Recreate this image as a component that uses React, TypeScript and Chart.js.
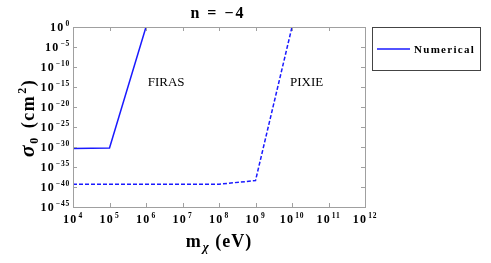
import React, { useEffect, useRef } from 'react';
import { Chart, registerables } from 'chart.js';
Chart.register(...registerables);

const xExponents = [4, 5, 6, 7, 8, 9, 10, 11, 12];
const yExponents = [0, -5, -10, -15, -20, -25, -30, -35, -40, -45];
const firasMass = [1e4, 1e5, 1e6];
const firasSigma = [4e-31, 6e-31, 1];
const pixieMass = [1e4, 1e8, 1e9, 1e10];
const pixieSigma = [5e-40, 5e-40, 4e-39, 1];
const seriesLabel = 'Numerical';
const titleText = 'n = \u22124';
const annotationTexts = ['FIRAS', 'PIXIE'];
const annotationMass = [10 ** 6.55, 10 ** 10.4];
const annotationSigma = [10 ** -13.8, 10 ** -13.8];

const BLUE = '#1a1aff';
const SERIF = '"Liberation Serif", "Times New Roman", serif';

function setLS(ctx: CanvasRenderingContext2D, v: string) {
  (ctx as any).letterSpacing = v;
}

function drawPower(ctx: CanvasRenderingContext2D, exp: number, x: number, y: number, align: 'center' | 'right') {
  const base = '10';
  const ex = exp < 0 ? '\u2212' + Math.abs(exp) : String(exp);
  setLS(ctx, '1.2px');
  ctx.font = `bold 12px ${SERIF}`;
  const wb = ctx.measureText(base).width;
  setLS(ctx, '0.8px');
  ctx.font = `bold 7.5px ${SERIF}`;
  const we = ctx.measureText(ex).width;
  const total = wb + 1 + we;
  const left = align === 'center' ? x - total / 2 : x - total;
  ctx.textAlign = 'left';
  ctx.textBaseline = 'alphabetic';
  ctx.fillStyle = '#000';
  setLS(ctx, '1.2px');
  ctx.font = `bold 12px ${SERIF}`;
  ctx.fillText(base, left, y);
  setLS(ctx, '0.8px');
  ctx.font = `bold 7.5px ${SERIF}`;
  ctx.fillText(ex, left + wb + 1, y - 5.5);
  setLS(ctx, '0px');
}

const decorPlugin = {
  id: 'decor',
  afterDraw(chart: any) {
    const ctx: CanvasRenderingContext2D = chart.ctx;
    const { left, right, top, bottom } = chart.chartArea;
    const xs = chart.scales.x;
    const ys = chart.scales.y;
    ctx.save();
    // frame
    ctx.strokeStyle = '#a0a0a0';
    ctx.lineWidth = 1;
    ctx.strokeRect(left + 0.5, top + 0.5, right - left, bottom - top);
    // ticks
    ctx.beginPath();
    xExponents.forEach((e) => {
      const px = Math.round(xs.getPixelForValue(10 ** e)) + 0.5;
      ctx.moveTo(px, bottom); ctx.lineTo(px, bottom - 4);
      ctx.moveTo(px, top); ctx.lineTo(px, top + 4);
    });
    yExponents.forEach((e) => {
      const py = Math.round(ys.getPixelForValue(10 ** e)) + 0.5;
      ctx.moveTo(left, py); ctx.lineTo(left + 4, py);
      ctx.moveTo(right, py); ctx.lineTo(right - 4, py);
    });
    ctx.stroke();
    // tick labels
    xExponents.forEach((e) => {
      const px = xs.getPixelForValue(10 ** e);
      drawPower(ctx, e, px, bottom + 16, 'center');
    });
    yExponents.forEach((e) => {
      const py = ys.getPixelForValue(10 ** e);
      drawPower(ctx, e, left - 3, py + 4, 'right');
    });
    // annotations
    ctx.fillStyle = '#000';
    ctx.font = `13px ${SERIF}`;
    ctx.textAlign = 'center';
    ctx.textBaseline = 'middle';
    annotationTexts.forEach((t, i) => {
      ctx.fillText(t, xs.getPixelForValue(annotationMass[i]), ys.getPixelForValue(annotationSigma[i]));
    });
    // title
    ctx.font = `bold 16px ${SERIF}`;
    ctx.textBaseline = 'alphabetic';
    ctx.textAlign = 'left';
    setLS(ctx, '2px');
    {
      const w = ctx.measureText(titleText).width;
      ctx.fillText(titleText, 218 - w / 2, 18);
    }
    setLS(ctx, '0px');
    // x title
    {
      const cx = (left + right) / 2;
      const by = bottom + 40;
      setLS(ctx, '1px');
      ctx.font = `bold 18px ${SERIF}`;
      const w1 = ctx.measureText('m').width;
      const w3 = ctx.measureText(' (eV)').width;
      ctx.font = `italic bold 13px ${SERIF}`;
      const w2 = ctx.measureText('\u03c7').width + 1;
      const x0 = cx - (w1 + w2 + w3) / 2;
      ctx.textAlign = 'left';
      ctx.font = `bold 18px ${SERIF}`;
      ctx.fillText('m', x0, by);
      ctx.font = `italic bold 13px ${SERIF}`;
      ctx.fillText('\u03c7', x0 + w1 + 1, by + 4);
      ctx.font = `bold 18px ${SERIF}`;
      ctx.fillText(' (eV)', x0 + w1 + w2, by);
      setLS(ctx, '0px');
    }
    // y title
    {
      ctx.save();
      ctx.translate(34, 118);
      ctx.rotate(-Math.PI / 2);
      setLS(ctx, '1.5px');
      ctx.font = `italic bold 22px ${SERIF}`;
      const ws = ctx.measureText('\u03c3').width;
      ctx.font = `bold 12px ${SERIF}`;
      const w0 = ctx.measureText('0').width + 2;
      ctx.font = `bold 18px ${SERIF}`;
      const wc = ctx.measureText(' (cm').width;
      ctx.font = `bold 12px ${SERIF}`;
      const w2 = ctx.measureText('2').width + 1;
      ctx.font = `bold 18px ${SERIF}`;
      const wp = ctx.measureText(')').width;
      const total = ws + w0 + wc + w2 + wp;
      let x0 = -total / 2;
      ctx.textAlign = 'left';
      ctx.textBaseline = 'alphabetic';
      ctx.font = `italic bold 22px ${SERIF}`;
      ctx.fillText('\u03c3', x0, 0);
      x0 += ws;
      ctx.font = `bold 12px ${SERIF}`;
      ctx.fillText('0', x0, 4);
      x0 += w0;
      ctx.font = `bold 18px ${SERIF}`;
      ctx.fillText(' (cm', x0, 0);
      x0 += wc;
      ctx.font = `bold 12px ${SERIF}`;
      ctx.fillText('2', x0 + 1, -8);
      x0 += w2;
      ctx.font = `bold 18px ${SERIF}`;
      ctx.fillText(')', x0, 0);
      setLS(ctx, '0px');
      ctx.restore();
    }
    // legend
    {
      const lx = right + 7;
      const ly = top;
      const lw = 108;
      const lh = 43;
      ctx.strokeStyle = '#444';
      ctx.lineWidth = 1;
      ctx.strokeRect(lx + 0.5, ly + 0.5, lw, lh);
      ctx.strokeStyle = BLUE;
      ctx.lineWidth = 1.5;
      ctx.beginPath();
      ctx.moveTo(lx + 5, ly + 22);
      ctx.lineTo(lx + 38, ly + 22);
      ctx.stroke();
      ctx.fillStyle = '#000';
      ctx.font = `bold 11px ${SERIF}`;
      ctx.textAlign = 'left';
      ctx.textBaseline = 'middle';
      setLS(ctx, '1.3px');
      ctx.fillText(seriesLabel, lx + 42, ly + 23);
      setLS(ctx, '0px');
    }
    ctx.restore();
  },
};

export default function App() {
  const ref = useRef<HTMLCanvasElement>(null);
  useEffect(() => {
    if (!ref.current) return;
    const chart = new Chart(ref.current, {
      type: 'line',
      data: {
        datasets: [
          {
            label: seriesLabel,
            data: firasMass.map((m, i) => ({ x: m, y: firasSigma[i] })),
            borderColor: BLUE,
            borderWidth: 1.5,
            pointRadius: 0,
            tension: 0,
          },
          {
            label: seriesLabel,
            data: pixieMass.map((m, i) => ({ x: m, y: pixieSigma[i] })),
            borderColor: BLUE,
            borderWidth: 1.5,
            borderDash: [4, 2],
            pointRadius: 0,
            tension: 0,
          },
        ],
      },
      options: {
        animation: false,
        responsive: true,
        maintainAspectRatio: false,
        layout: { padding: { left: 73, right: 126, top: 27, bottom: 56 } },
        plugins: { legend: { display: false }, tooltip: { enabled: false }, title: { display: false } },
        scales: {
          x: { type: 'logarithmic', min: 1e4, max: 1e12, display: false },
          y: { type: 'logarithmic', min: 1e-45, max: 1, display: false },
        },
      },
      plugins: [decorPlugin],
    });
    return () => chart.destroy();
  }, []);
  return (
    <div style={{ position: 'fixed', left: 0, top: 0, width: 491, height: 263, background: '#fff' }}>
      <canvas ref={ref} />
    </div>
  );
}
